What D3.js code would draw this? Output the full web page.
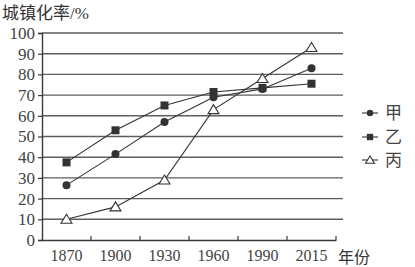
<!DOCTYPE html>
<html><head><meta charset="utf-8">
<script src="https://cdn.jsdelivr.net/npm/d3@7/dist/d3.min.js"></script>
<style>body{margin:0;background:#fff}</style>
</head><body>
<script>
const years = ["1870","1900","1930","1960","1990","2015"];
const jia  = [26.5, 41.5, 57, 69, 73, 83];
const yi   = [37.5, 53, 65, 71.5, 73.5, 75.5];
const bing = [10, 16, 29, 63, 78, 93];
const yTicks = [0,10,20,30,40,50,60,70,80,90,100];
const seriesNames = ["甲","乙","丙"];

const W=415,H=267;
const svg=d3.select("body").append("svg").attr("width",W).attr("height",H);
const x=d3.scaleBand().domain(years).range([42,336]);
const y=d3.scaleLinear().domain([0,100]).range([240,33]);
const ink="#3a3a3a", grid="#5e5e5e";
const numFont="'Liberation Serif', serif";

// gridlines
svg.append("g").selectAll("line").data(yTicks.filter(d=>d>0)).join("line")
  .attr("x1",42).attr("x2",343).attr("y1",d=>y(d)).attr("y2",d=>y(d))
  .attr("stroke",grid).attr("stroke-width",1.4);

// y axis
const ya=svg.append("g").attr("transform","translate(42,0)")
  .call(d3.axisLeft(y).tickValues(yTicks).tickSize(4).tickPadding(3));
ya.select(".domain").attr("stroke",ink).attr("stroke-width",1.4);
ya.selectAll(".tick line").attr("stroke",ink).attr("stroke-width",1.2);
ya.selectAll("text").attr("font-family",numFont).attr("font-size",17).attr("fill","#444");

// x axis
const xa=svg.append("g").attr("transform","translate(0,240)")
  .call(d3.axisBottom(x).tickSize(0).tickPadding(10));
xa.select(".domain").attr("stroke",ink).attr("stroke-width",1.4);
xa.selectAll("text").attr("font-family",numFont).attr("font-size",16).attr("fill","#444");
// boundary ticks
const bounds=years.map(d=>x(d)).concat([x(years[years.length-1])+x.bandwidth()]).slice(1);
svg.append("g").selectAll("line").data(bounds).join("line")
  .attr("x1",d=>d).attr("x2",d=>d).attr("y1",240).attr("y2",236)
  .attr("stroke",ink).attr("stroke-width",1.2);

// titles
const t=svg.append("text").attr("x",2).attr("y",19)
  .attr("font-size",17).attr("fill","#333");
t.append("tspan").attr("font-family","'Noto Sans CJK SC'").text("城镇化率");
t.append("tspan").attr("font-family",numFont).attr("font-size",17).text("/%");
svg.append("text").attr("x",338).attr("y",263).text("年份")
  .attr("font-family","'Noto Sans CJK SC'").attr("font-size",16).attr("fill","#333");

const cx=d=>x(d)+x.bandwidth()/2;
const line=d3.line().x((v,i)=>cx(years[i])).y(v=>y(v));
const data=[bing,yi,jia];
const kinds=["tri","sq","circ"];
function marker(g,kind,px,py,s){
  s=s||1;
  if(kind==="circ") g.append("circle").attr("cx",px).attr("cy",py).attr("r",4*s).attr("fill","#333");
  else if(kind==="sq") g.append("rect").attr("x",px-4*s).attr("y",py-4*s).attr("width",8*s).attr("height",8*s).attr("fill","#333");
  else g.append("path").attr("d",`M${px},${py-5*s}L${px+5.5*s},${py+4*s}L${px-5.5*s},${py+4*s}Z`)
      .attr("fill","#fff").attr("stroke","#333").attr("stroke-width",1.1);
}
data.forEach((s,k)=>{
  svg.append("path").attr("d",line(s)).attr("fill","none").attr("stroke","#333").attr("stroke-width",1.1);
});
data.forEach((s,k)=>{
  const g=svg.append("g");
  s.forEach((v,i)=>marker(g,kinds[k],cx(years[i]),y(v)));
});

// legend
const legKinds=["circ","sq","tri"];
const legY=[113,137,160];
seriesNames.forEach((n,i)=>{
  const g=svg.append("g");
  g.append("line").attr("x1",362).attr("x2",378).attr("y1",legY[i]).attr("y2",legY[i]).attr("stroke","#333").attr("stroke-width",1.1);
  marker(g,legKinds[i],370,legY[i],0.8);
  g.append("text").attr("x",385).attr("y",legY[i]+6).text(n)
    .attr("font-family","'Noto Sans CJK SC'").attr("font-size",17).attr("fill","#444");
});
</script>
</body></html>
